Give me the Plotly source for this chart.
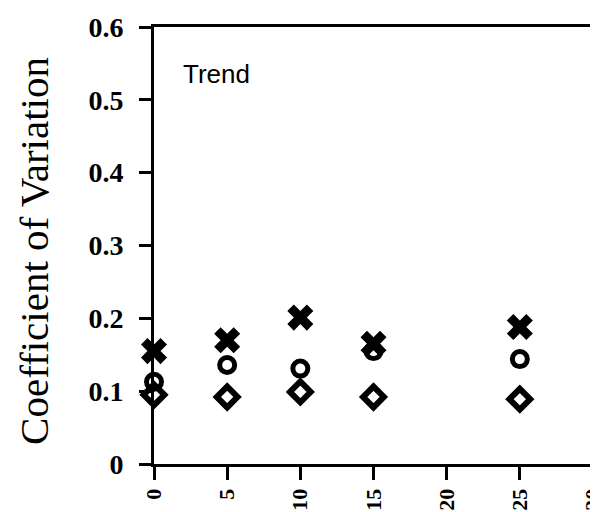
import plotly.graph_objects as go

x_vals = [0, 5, 10, 15, 25]
cv_x = [0.155, 0.170, 0.201, 0.165, 0.188]
cv_circle = [0.113, 0.136, 0.131, 0.155, 0.144]
cv_diamond = [0.095, 0.092, 0.099, 0.092, 0.089]
x_ticks = [0, 5, 10, 15, 20, 25, 30]
y_ticks = [0, 0.1, 0.2, 0.3, 0.4, 0.5, 0.6]
y_tick_text = ["0", "0.1", "0.2", "0.3", "0.4", "0.5", "0.6"]

fig = go.Figure()
fig.add_trace(go.Scatter(x=x_vals, y=cv_x, mode="markers", cliponaxis=False,
                         marker=dict(symbol="x", size=23, color="black", line=dict(width=0))))
fig.add_trace(go.Scatter(x=x_vals, y=cv_circle, mode="markers", cliponaxis=False,
                         marker=dict(symbol="circle-open", size=15, color="black", line=dict(width=5))))
fig.add_trace(go.Scatter(x=x_vals, y=cv_diamond, mode="markers", cliponaxis=False,
                         marker=dict(symbol="diamond-open", size=16, color="black", line=dict(width=6))))

fig.add_annotation(x=0.061, y=0.892, xref="paper", yref="paper", text="Trend", showarrow=False,
                   xanchor="left", yanchor="middle",
                   font=dict(family="Liberation Sans, Arial", size=26, color="black"))

fig.add_annotation(x=-0.274, y=0.487, xref="paper", yref="paper", text="Coefficient of Variation",
                   showarrow=False, textangle=-90, xanchor="center", yanchor="middle",
                   font=dict(family="Liberation Serif, Times New Roman", size=41, color="black"))

serif = "Liberation Serif, Times New Roman"
fig.update_layout(
    width=598, height=512,
    margin=dict(l=146, r=13, t=19, b=56),
    plot_bgcolor="white", paper_bgcolor="white",
    showlegend=False,
    xaxis=dict(range=[0, 30], tickvals=x_ticks, ticktext=[str(v) for v in x_ticks],
               tickangle=-90, ticks="outside", ticklen=13, tickwidth=3, tickcolor="black",
               showline=True, linecolor="black", linewidth=3, mirror=True, showgrid=False, zeroline=False,
               automargin=False,
               tickfont=dict(family=serif, size=22, color="black", weight="bold")),
    yaxis=dict(range=[0, 0.6], tickvals=y_ticks, ticktext=y_tick_text,
               ticks="outside", ticklen=12, tickwidth=3, tickcolor="black",
               showline=True, linecolor="black", linewidth=3, mirror=True, showgrid=False, zeroline=False,
               automargin=False, ticklabelstandoff=10,
               tickfont=dict(family=serif, size=28, color="black", weight="bold")),
)

fig.write_html("out.html")
